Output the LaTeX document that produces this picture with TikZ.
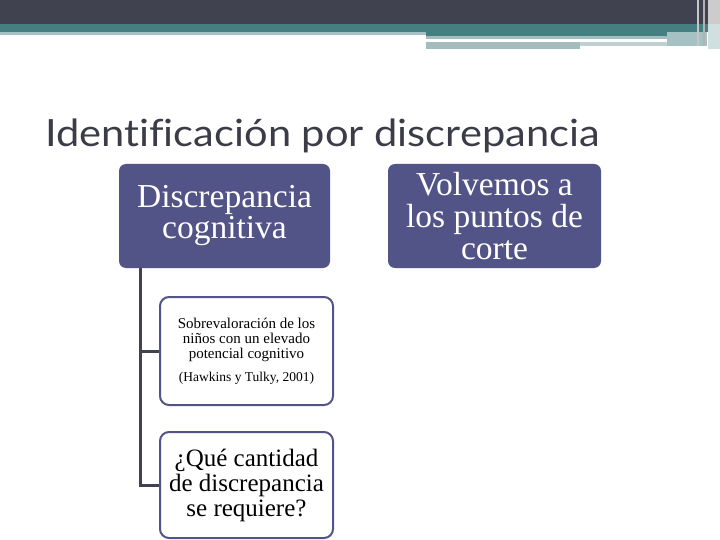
\documentclass[tikz,border=0pt]{standalone}
\usepackage{fontspec}
\setmainfont{Liberation Serif}
\newfontfamily\titlefont[Ligatures={NoCommon},FakeStretch=1.11]{Lato}
\definecolor{dark}{HTML}{41424F}
\definecolor{teal}{HTML}{457F82}
\definecolor{lteal}{HTML}{A5C1C4}
\definecolor{gteal}{HTML}{A4BCBE}
\definecolor{boxblue}{HTML}{525387}
\definecolor{titlegray}{HTML}{3C3C48}
\begin{document}
\begin{tikzpicture}[x=1pt,y=-1pt,
  filledbox/.style={draw=none,fill=boxblue,rounded corners=7pt,text=white,align=center,inner sep=0pt},
  outlinebox/.style={draw=boxblue,line width=2pt,fill=white,rounded corners=9pt,text=black,align=center,inner sep=0pt},
  conn/.style={draw=dark,line width=3pt}]
\useasboundingbox (0,0) rectangle (720,540);
% banner
\fill[dark] (0,0) rectangle (720,24);
\fill[teal] (0,24) rectangle (720,32);
\fill[lteal] (0,32) rectangle (426,35.5);
\fill[teal] (426,32) rectangle (700,36);
\fill[gteal] (426,36) rectangle (667,39);
\fill[gteal] (426,42) rectangle (580,49);
\fill[gteal!70] (580,42) rectangle (707,46);
\fill[lteal] (667,32) rectangle (707,46);
\fill[gray!45] (697,0) rectangle (699,46);
\fill[gray!60] (703,0) rectangle (705,46);
\fill[gray!40!white] (708,0) rectangle (720,24);
\fill[teal!25] (708,24) rectangle (720,49);
% title
\node[anchor=base west,inner sep=0pt,text=titlegray,font=\titlefont\fontsize{37.5}{40}\selectfont] (title) at (45,147) {Identificación por discrepancia};
% boxes
\node[filledbox,minimum width=211pt,minimum height=104pt,font=\fontsize{33.5}{31}\selectfont] (cog) at (224.5,216) {Discrepancia\\cognitiva};
\node[filledbox,minimum width=213pt,minimum height=104pt,font=\fontsize{33.5}{32}\selectfont] (volv) at (494.5,216) {Volvemos a\\los puntos de\\corte};
\node[outlinebox,minimum width=173pt,minimum height=108pt,font=\fontsize{15}{15}\selectfont] (sobre) at (246.5,351) {Sobrevaloración de los\\niños con un elevado\\potencial cognitivo\\[8pt]{\fontsize{13.5}{15}\selectfont(Hawkins y Tulky, 2001)}};
\node[outlinebox,minimum width=173pt,minimum height=106pt,font=\fontsize{25}{25}\selectfont] (cant) at (246.5,485) {¿Qué cantidad\\de discrepancia\\se requiere?};
% connectors
\coordinate (trunk) at (140.5,268);
\draw[conn] (trunk) |- (sobre.west);
\draw[conn] (trunk) |- (cant.west);
\end{tikzpicture}
\end{document}
